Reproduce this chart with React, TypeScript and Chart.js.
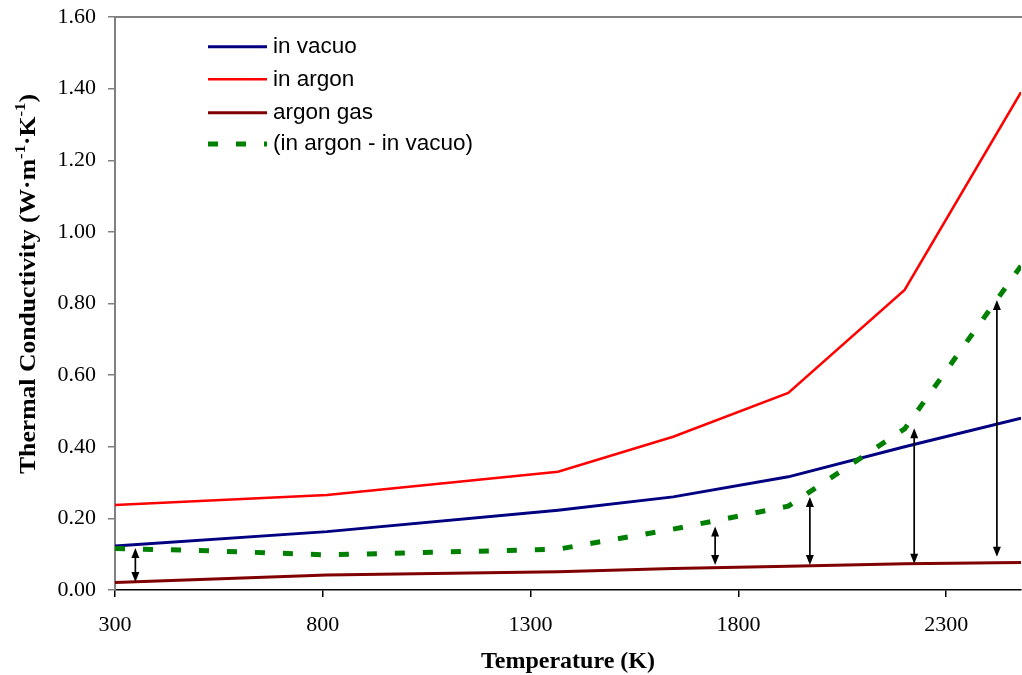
import React, { useEffect, useRef } from "react";
import { Chart, registerables } from "chart.js";

Chart.register(...registerables);

// ---- data ----
const temps = [300, 810, 1366, 1643, 1920, 2200, 2480];
const inVacuo = [0.123, 0.163, 0.223, 0.26, 0.316, 0.4, 0.48];
const inArgon = [0.237, 0.265, 0.33, 0.428, 0.55, 0.838, 1.39];
const argonGas = [0.021, 0.042, 0.051, 0.06, 0.066, 0.073, 0.077];
const diffTemps = [300, 540, 810, 1366, 1643, 1920, 2200, 2480];
const diffValues = [0.116, 0.109, 0.098, 0.114, 0.17, 0.234, 0.45, 0.905];
const arrowTemps = [349, 1744, 1972, 2223, 2422];
const arrowTop = [0.117, 0.177, 0.26, 0.452, 0.81];
const arrowBottom = [0.022, 0.07, 0.07, 0.073, 0.093];
const xTickValues = [300, 800, 1300, 1800, 2300];
const yTickValues = [0, 0.2, 0.4, 0.6, 0.8, 1.0, 1.2, 1.4, 1.6];
const seriesLabels = ["in vacuo", "in argon", "argon gas", "(in argon - in vacuo)"];
const xTitle = "Temperature (K)";
const yTitleParts = ["Thermal Conductivity (W·m", "-1", "·K", "-1", ")"];

const colors = ["#000080", "#FF0000", "#800000", "#008000"];
const widths = [3, 2.5, 3, 5];
const dashes: number[][] = [[], [], [], [10, 18]];

const SERIF = "'Liberation Serif', 'Times New Roman', serif";
const SANS = "'Liberation Sans', Arial, sans-serif";

const legendPlugin = {
  id: "customLegend",
  afterDraw(chart: any) {
    const { ctx, chartArea } = chart;
    const rows = [29.7, 62.3, 95.7, 127];
    ctx.save();
    rows.forEach((dy, i) => {
      const y = chartArea.top + dy;
      const x0 = chartArea.left + 93;
      const x1 = chartArea.left + 152;
      ctx.beginPath();
      ctx.strokeStyle = colors[i];
      ctx.lineWidth = widths[i];
      ctx.setLineDash(dashes[i]);
      ctx.lineCap = "butt";
      ctx.moveTo(x0, y);
      ctx.lineTo(x1, y);
      ctx.stroke();
      ctx.setLineDash([]);
      ctx.fillStyle = "#000";
      ctx.font = `22.5px ${SANS}`;
      ctx.textAlign = "left";
      ctx.textBaseline = "middle";
      ctx.fillText(seriesLabels[i], chartArea.left + 158, y);
    });
    ctx.restore();
  },
};

const yTitlePlugin = {
  id: "yTitle",
  afterDraw(chart: any) {
    const { ctx } = chart;
    const mainFont = `bold 23px ${SERIF}`;
    const supFont = `bold 15px ${SERIF}`;
    ctx.save();
    let total = 0;
    yTitleParts.forEach((p, i) => {
      ctx.font = i % 2 === 1 ? supFont : mainFont;
      total += ctx.measureText(p).width;
    });
    const targetLen = 380;
    const stretch = targetLen / total;
    const centerY = 284;
    ctx.translate(35, centerY + targetLen / 2);
    ctx.rotate(-Math.PI / 2);
    ctx.scale(stretch, 1);
    ctx.fillStyle = "#000";
    ctx.textAlign = "left";
    ctx.textBaseline = "alphabetic";
    let x = 0;
    yTitleParts.forEach((p, i) => {
      const sup = i % 2 === 1;
      ctx.font = sup ? supFont : mainFont;
      ctx.fillText(p, x, sup ? -10 : 0);
      x += ctx.measureText(p).width;
    });
    ctx.restore();
  },
};

const frameAndArrowsPlugin = {
  id: "frameArrows",
  afterDatasetsDraw(chart: any) {
    const { ctx, chartArea, scales } = chart;
    ctx.save();
    // top frame line
    ctx.beginPath();
    ctx.strokeStyle = "#808080";
    ctx.lineWidth = 2;
    ctx.moveTo(chartArea.left, chartArea.top);
    ctx.lineTo(chartArea.right + 1, chartArea.top);
    ctx.stroke();
    // double-headed arrows
    ctx.strokeStyle = "#000";
    ctx.fillStyle = "#000";
    ctx.lineWidth = 1.7;
    const head = 10;
    const half = 4;
    arrowTemps.forEach((t, i) => {
      const px = scales.x.getPixelForValue(t);
      const yt = scales.y.getPixelForValue(arrowTop[i]);
      const yb = scales.y.getPixelForValue(arrowBottom[i]);
      ctx.beginPath();
      ctx.moveTo(px, yt + head - 1);
      ctx.lineTo(px, yb - head + 1);
      ctx.stroke();
      ctx.beginPath();
      ctx.moveTo(px, yt);
      ctx.lineTo(px - half, yt + head);
      ctx.lineTo(px + half, yt + head);
      ctx.closePath();
      ctx.fill();
      ctx.beginPath();
      ctx.moveTo(px, yb);
      ctx.lineTo(px - half, yb - head);
      ctx.lineTo(px + half, yb - head);
      ctx.closePath();
      ctx.fill();
    });
    ctx.restore();
  },
};

export default function App() {
  const canvasRef = useRef<HTMLCanvasElement | null>(null);

  useEffect(() => {
    document.body.style.margin = "0";
    document.body.style.overflow = "hidden";
    const canvas = canvasRef.current;
    if (!canvas) return;
    const seriesValues = [inVacuo, inArgon, argonGas];
    const datasets: any[] = seriesValues.map((vals, i) => ({
      label: seriesLabels[i],
      data: temps.map((t, j) => ({ x: t, y: vals[j] })),
      borderColor: colors[i],
      borderWidth: widths[i],
      pointRadius: 0,
      fill: false,
      tension: 0,
      order: 1,
    }));
    datasets.push({
      label: seriesLabels[3],
      data: diffTemps.map((t, j) => ({ x: t, y: diffValues[j] })),
      borderColor: colors[3],
      borderWidth: widths[3],
      borderDash: dashes[3],
      borderCapStyle: "butt",
      pointRadius: 0,
      fill: false,
      tension: 0,
      order: 0,
    });

    const zeroPad = (scale: any) => {
      scale.paddingTop = 0;
      scale.paddingBottom = 0;
      scale.paddingLeft = 0;
      scale.paddingRight = 0;
    };

    const chart = new Chart(canvas, {
      type: "line",
      data: { datasets },
      options: {
        responsive: false,
        animation: false,
        devicePixelRatio: 1,
        layout: { padding: { top: 17, right: 1, left: 0, bottom: 0 } },
        plugins: {
          legend: { display: false },
          tooltip: { enabled: false },
        },
        scales: {
          x: {
            type: "linear",
            min: 300,
            max: 2480,
            afterBuildTicks: (scale: any) => {
              scale.ticks = xTickValues.map((v) => ({ value: v }));
            },
            afterFit: (scale: any) => {
              scale.height = 85;
              zeroPad(scale);
            },
            ticks: {
              color: "#000",
              font: { family: SERIF, size: 22 },
              padding: 15,
              maxRotation: 0,
              callback: (v: any) => String(v),
            },
            grid: {
              drawOnChartArea: false,
              drawTicks: true,
              tickLength: 7,
              color: "#000",
              lineWidth: 1.5,
            },
            border: { color: "#000", width: 1.5 },
            title: {
              display: true,
              text: xTitle,
              color: "#000",
              font: { family: SERIF, size: 24, weight: "bold", lineHeight: 1.1 },
              padding: { top: 0, bottom: 0 },
            },
          },
          y: {
            type: "linear",
            min: 0,
            max: 1.6,
            afterBuildTicks: (scale: any) => {
              scale.ticks = yTickValues.map((v) => ({ value: v }));
            },
            afterFit: (scale: any) => {
              scale.width = 115;
              zeroPad(scale);
            },
            ticks: {
              color: "#000",
              font: { family: SERIF, size: 22 },
              padding: 12,
              callback: (v: any) => Number(v).toFixed(2),
            },
            grid: {
              drawOnChartArea: false,
              drawTicks: true,
              tickLength: 7,
              color: "#808080",
              lineWidth: 1.5,
            },
            border: { color: "#808080", width: 2 },
            title: { display: false },
          },
        },
      },
      plugins: [frameAndArrowsPlugin, legendPlugin, yTitlePlugin],
    } as any);

    return () => {
      chart.destroy();
    };
  }, []);

  return (
    <div style={{ width: 1022, height: 675, background: "#fff" }}>
      <canvas ref={canvasRef} width={1022} height={675} style={{ display: "block" }} />
    </div>
  );
}
